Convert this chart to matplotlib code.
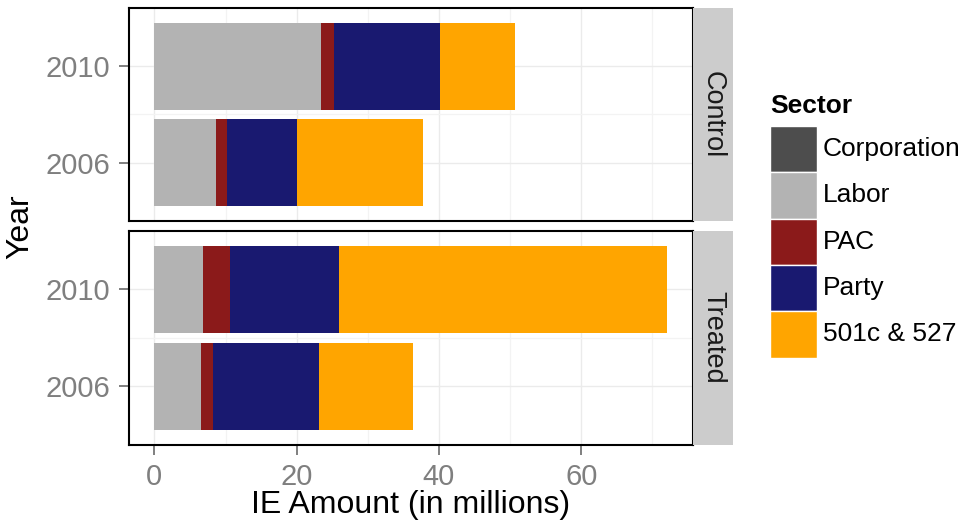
import matplotlib
matplotlib.use("Agg")
import matplotlib.pyplot as plt
from matplotlib.patches import Rectangle
import numpy as np

plt.rcParams['font.family'] = ['Liberation Sans', 'DejaVu Sans']

groups = ["Control", "Treated"]
years = ["2006", "2010"]
sectors = ["Corporation", "Labor", "PAC", "Party", "501c & 527"]
colors = ["#4D4D4D", "#B3B3B3", "#8B1A1A", "#191970", "#FFA500"]

# values in millions, per group, per year (2006, 2010)
corporation = {"Control": [0.0, 0.0], "Treated": [0.0, 0.0]}
labor = {"Control": [8.66, 23.4], "Treated": [6.6, 6.85]}
pac = {"Control": [1.54, 1.8], "Treated": [1.65, 3.75]}
party = {"Control": [9.8, 14.9], "Treated": [14.85, 15.3]}
c501 = {"Control": [17.8, 10.6], "Treated": [13.2, 46.2]}
series = [corporation, labor, pac, party, c501]

W, H = 964, 523
fig = plt.figure(figsize=(W / 100, H / 100), dpi=100)

def fx(px):
    return px / W

def fy(py):
    return 1 - py / H

panel_left, panel_right = 128.7, 693.0
panel_boxes = [(8.3, 220.7), (231.0, 444.7)]
strip_right = 732.7

xmax = max(sum(s[g][i] for s in series) for g in groups for i in range(2))
pad = 0.05 * xmax
tick_col = "#7F7F7F"

axes = []
for gi, g in enumerate(groups):
    top, bot = panel_boxes[gi]
    ax = fig.add_axes([fx(panel_left), fy(bot), fx(panel_right - panel_left), (bot - top) / H])
    axes.append(ax)
    ypos = np.arange(1, len(years) + 1)
    left = np.zeros(len(years))
    for s, c in zip(series, colors):
        vals = np.array(s[g])
        ax.barh(ypos, vals, left=left, height=0.9, color=c, edgecolor='none', zorder=2)
        left += vals
    ax.set_xlim(-pad, xmax + pad)
    ax.set_ylim(0.4, len(years) + 0.6)
    ax.set_yticks(ypos)
    ax.set_yticklabels(years)
    ax.set_xticks([0, 20, 40, 60])
    ax.set_xticks([10, 30, 50, 70], minor=True)
    ax.set_yticks([1.5], minor=True)
    ax.grid(True, which='major', color='#EBEBEB', lw=1.0, zorder=0)
    ax.grid(True, which='minor', color='#F3F3F3', lw=0.9, zorder=0)
    ax.set_axisbelow(True)
    ax.tick_params(axis='both', which='major', colors=tick_col, labelsize=21,
                   length=7.5, width=1.4, pad=6)
    ax.tick_params(axis='both', which='minor', length=0)
    for sp in ax.spines.values():
        sp.set_color('black')
        sp.set_linewidth(1.5)
    if gi == 0:
        ax.tick_params(axis='x', which='major', labelbottom=False, length=0)
    # strip
    sax = fig.add_axes([fx(panel_right + 0.3), fy(bot), fx(strip_right - panel_right - 0.3), (bot - top) / H])
    sax.set_facecolor('#CCCCCC')
    sax.set_xticks([])
    sax.set_yticks([])
    for sp in sax.spines.values():
        sp.set_visible(False)
    sax.text(0.5, 0.5, g, rotation=-90, ha='center', va='center', fontsize=19.5,
             color='#1A1A1A', transform=sax.transAxes)

fig.text(fx(410.9), fy(505), "IE Amount (in millions)", ha='center', va='center', fontsize=23)
fig.text(fx(20), fy(226.5), "Year", ha='center', va='center', rotation=90, fontsize=23)

# legend
kx0, kx1 = 770, 816.7
ky0, kh = 126, 46.3
fig.text(fx(kx0), fy(106), "Sector", ha='left', va='center', fontsize=19, fontweight='bold')
for i, (lab, c) in enumerate(zip(sectors, colors)):
    y0 = ky0 + i * kh
    fig.patches.append(Rectangle((fx(kx0), fy(y0 + kh)), fx(kx1 - kx0), kh / H,
                                 transform=fig.transFigure, facecolor=c,
                                 edgecolor='white', lw=1.0))
    fig.text(fx(822.7), fy(y0 + kh / 2), lab, ha='left', va='center', fontsize=19)

fig.savefig("out.png", dpi=100)
